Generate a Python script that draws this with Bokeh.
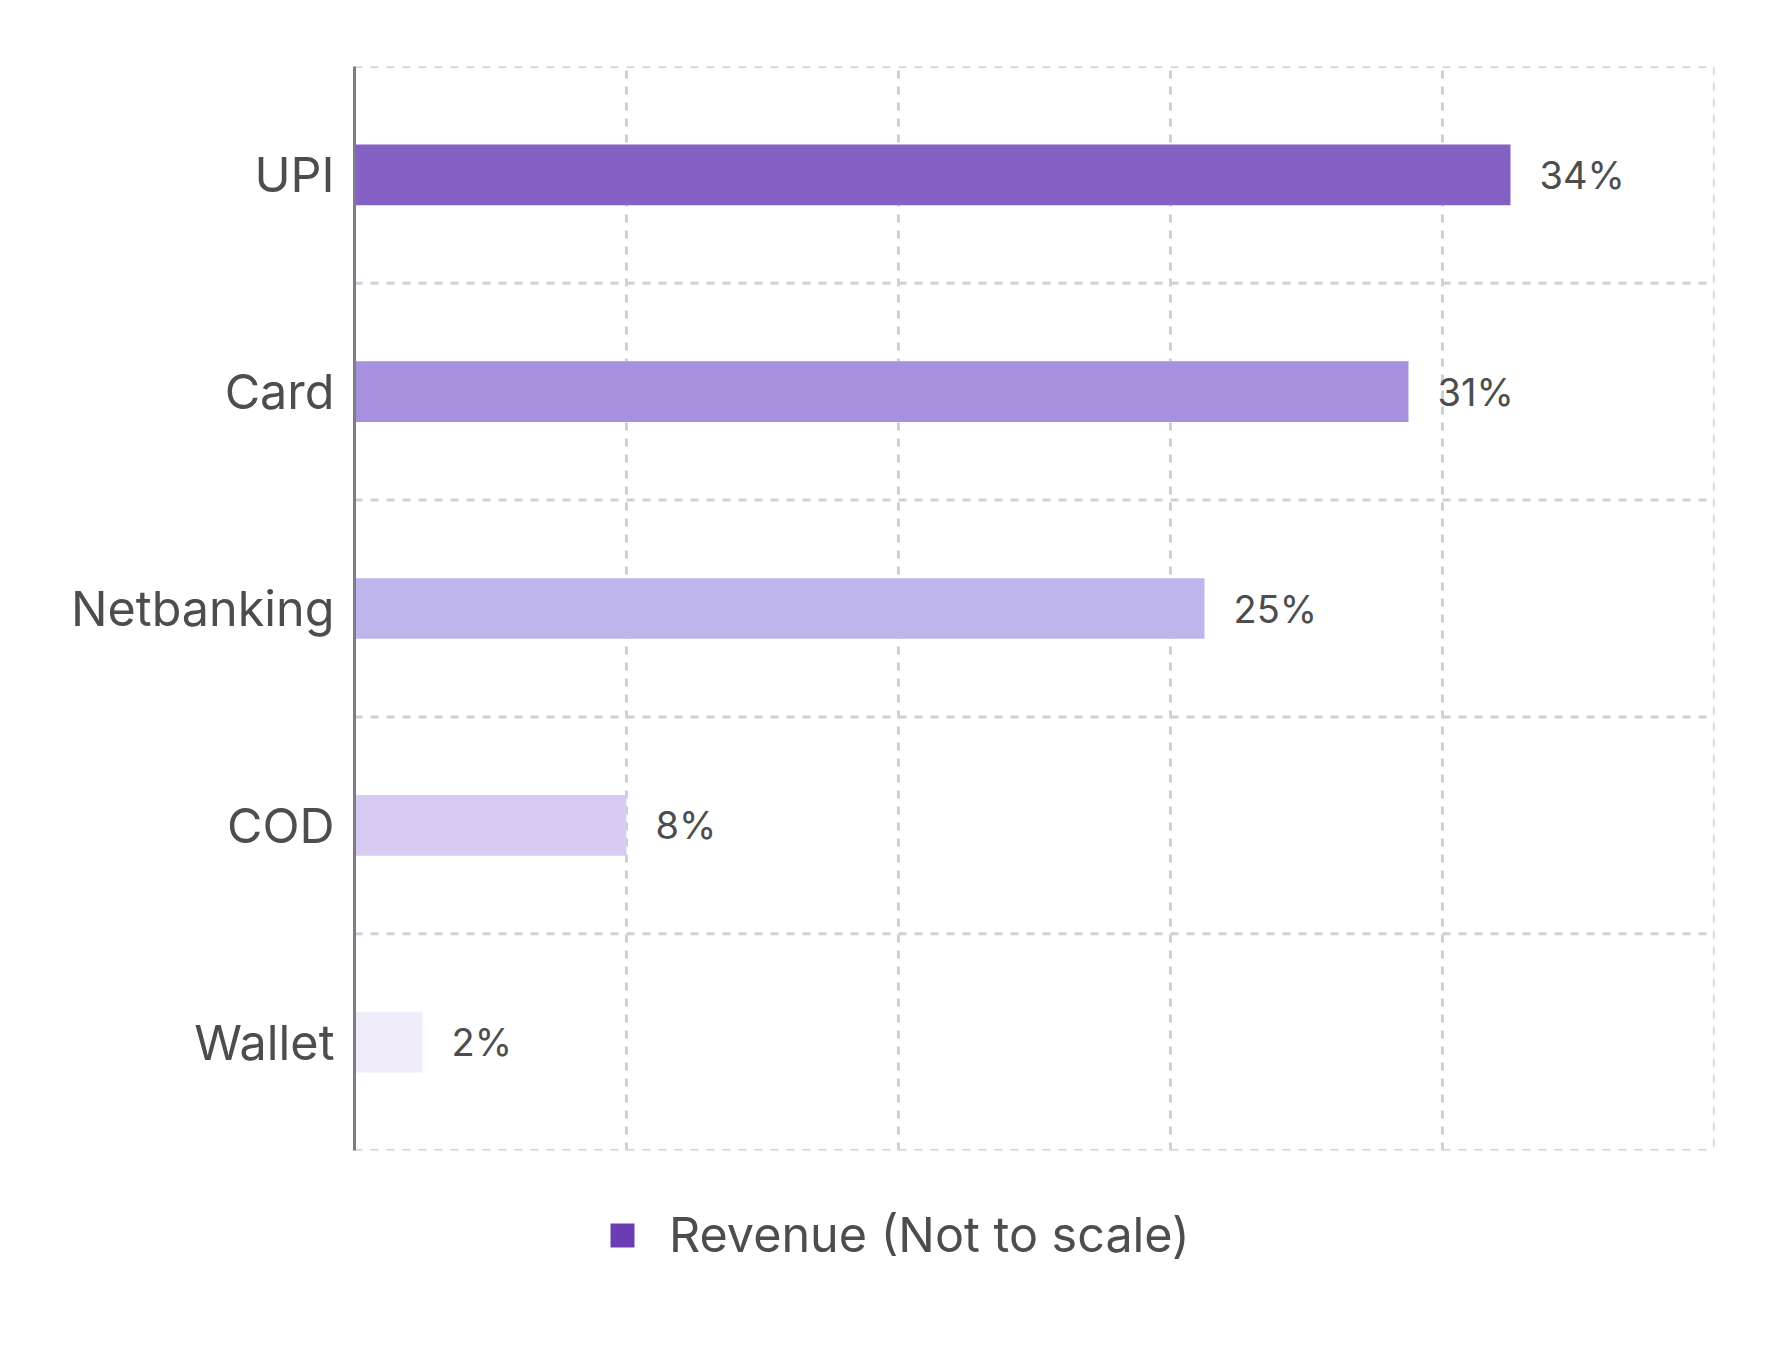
from bokeh.plotting import figure
from bokeh.layouts import column
from bokeh.models import (FactorRange, Range1d, FixedTicker, Span, Legend, LegendItem,
                          ColumnDataSource)
from bokeh.core.properties import value
from bokeh.embed import file_html
from bokeh.resources import INLINE

# ---- data ----
categories = ["UPI", "Card", "Netbanking", "COD", "Wallet"]
revenue_share = [34, 31, 25, 8, 2]
value_labels = ["34%", "31%", "25%", "8%", "2%"]
bar_colors = ["#8561C3", "#A791DE", "#BDB5EC", "#D7CBF4", "#F0ECFA"]
series_name = "Revenue (Not to scale)"
series_color = "#6A3DB5"
x_ticks = [0, 8, 16, 24, 32, 40]

FONT = "Inter"
TEXT_COLOR = "#4D4D4D"
GRID_COLOR = "#D0CFD6"

source = ColumnDataSource(dict(cat=categories, val=revenue_share,
                               lab=value_labels, color=bar_colors))

p = figure(width=1772, height=1190,
           y_range=FactorRange(factors=list(reversed(categories))),
           x_range=Range1d(0, 40),
           output_backend="svg", toolbar_location=None,
           min_border_left=354, min_border_right=58,
           min_border_top=66, min_border_bottom=40)

p.outline_line_color = None
p.background_fill_color = "white"
p.border_fill_color = "white"

# vertical dashed grid
p.xgrid.ticker = FixedTicker(ticks=x_ticks)
p.xgrid.grid_line_color = GRID_COLOR
p.xgrid.grid_line_width = 3
p.xgrid.grid_line_dash = "8 8"
p.ygrid.visible = False
p.add_layout(Span(location=x_ticks[-1], dimension="height", line_color=GRID_COLOR,
                  line_width=3, line_dash="8 8", level="underlay"))

# horizontal dashed grid at category boundaries (synthetic coords)
for k in range(len(categories) + 1):
    p.add_layout(Span(location=k, dimension="width", line_color=GRID_COLOR,
                      line_width=3, line_dash="8 8", level="underlay"))

p.xaxis.visible = False

yax = p.yaxis[0]
yax.axis_line_color = "#7F7C87"
yax.axis_line_width = 3
yax.major_tick_line_color = None
yax.minor_tick_line_color = None
yax.major_tick_out = 0
yax.major_tick_in = 0
yax.major_label_standoff = 20
yax.major_label_text_font = FONT
yax.major_label_text_font_size = "48.5px"
yax.major_label_text_color = TEXT_COLOR

p.hbar(y="cat", left=0, right="val", height=0.28, fill_color="color",
       line_color=None, source=source)

p.text(x="val", y="cat", text="lab", source=source, x_offset=29,
       text_baseline="middle", text_align="left",
       text_font=value(FONT), text_font_size="38px", text_color=TEXT_COLOR)

# legend strip (separate figure; its frame is aligned with the main frame)
lf = figure(width=1772, height=150, x_range=Range1d(0, 1), y_range=Range1d(0, 1),
            output_backend="svg", toolbar_location=None,
            min_border_left=354, min_border_right=58, min_border_top=0, min_border_bottom=0)
lf.axis.visible = False
lf.grid.visible = False
lf.outline_line_color = None
lf.background_fill_color = "white"
lf.border_fill_color = "white"
# legend proxy glyph (kept outside the strip's visible range)
leg_r = lf.hbar(y=[-5], left=[-5], right=[-4], height=1,
                fill_color=series_color, line_color=None)
legend = Legend(items=[LegendItem(label=series_name, renderers=[leg_r])],
                location=(253, 76), orientation="horizontal",
                glyph_width=30, glyph_height=30, label_standoff=32,
                label_text_font=FONT, label_text_font_size="48.5px",
                label_text_color=TEXT_COLOR,
                border_line_color=None, background_fill_alpha=0,
                padding=0, margin=0)
lf.add_layout(legend, "center")

layout = column(p, lf, spacing=0)
open("out.html", "w").write(file_html(layout, INLINE))
